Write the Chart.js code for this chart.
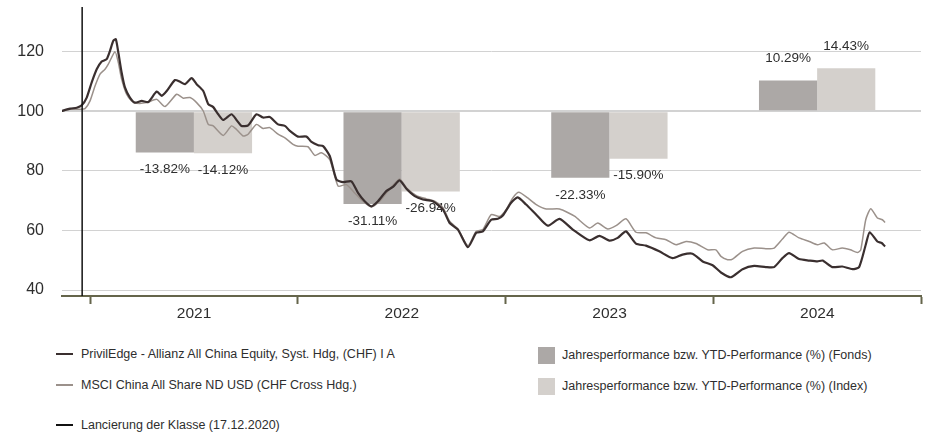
<!DOCTYPE html>
<html>
<head>
<meta charset="utf-8">
<script src="https://cdn.jsdelivr.net/npm/chart.js@4.4.0/dist/chart.umd.min.js"></script>
<style>
  html, body { margin: 0; padding: 0; background: #fff; }
  body {
    width: 928px; height: 434px; position: relative; overflow: hidden;
    font-family: 'Liberation Sans', Arial, sans-serif;
    color: #2e2e2e;
  }
  #wrap { position: absolute; left: 0; top: 0; width: 928px; height: 334px; }
  .item { position: absolute; display: flex; align-items: center; font-size: 12.5px; line-height: 18px; white-space: nowrap; }
  .line-mark { width: 17px; height: 2.5px; margin-right: 8px; }
  .box-mark { width: 17px; height: 17px; margin-right: 7px; }
</style>
</head>
<body>
<div id="wrap"><canvas id="chart"></canvas></div>
<div id="legend"></div>
<script>
// Indexed performance (launch = 100), dates as decimal years
const fundDates = [2020.864, 2020.904, 2020.936, 2020.960, 2020.984, 2021.008, 2021.032, 2021.056, 2021.080, 2021.096,
  2021.112, 2021.124, 2021.136, 2021.152, 2021.168, 2021.192, 2021.216, 2021.249, 2021.280, 2021.321,
  2021.345, 2021.369, 2021.409, 2021.433, 2021.457, 2021.489, 2021.513, 2021.545, 2021.569, 2021.593,
  2021.617, 2021.641, 2021.681, 2021.705, 2021.729, 2021.761, 2021.801, 2021.833, 2021.865, 2021.905,
  2021.938, 2021.962, 2022.001, 2022.042, 2022.066, 2022.098, 2022.122, 2022.154, 2022.186, 2022.218,
  2022.258, 2022.290, 2022.322, 2022.354, 2022.386, 2022.426, 2022.458, 2022.490, 2022.523, 2022.563,
  2022.602, 2022.650, 2022.699, 2022.731, 2022.771, 2022.819, 2022.859, 2022.891, 2022.931, 2022.963,
  2022.987, 2023.027, 2023.059, 2023.099, 2023.148, 2023.203, 2023.260, 2023.324, 2023.404, 2023.452,
  2023.500, 2023.540, 2023.580, 2023.628, 2023.676, 2023.740, 2023.804, 2023.852, 2023.900, 2023.949,
  2023.997, 2024.037, 2024.085, 2024.141, 2024.197, 2024.253, 2024.293, 2024.333, 2024.365, 2024.413,
  2024.462, 2024.501, 2024.526, 2024.573, 2024.621, 2024.670, 2024.702, 2024.734, 2024.753, 2024.790,
  2024.811, 2024.827];
const fundValues = [100.1, 100.9, 101.2, 102.0, 104.6, 109.7, 114.1, 116.7, 117.5, 120.3,
  123.7, 124.2, 119.8, 113.0, 108.0, 104.6, 102.9, 103.5, 103.1, 106.6,
  105.2, 106.8, 110.5, 109.9, 109.1, 111.1, 109.1, 106.8, 102.4, 101.4,
  99.0, 97.1, 99.0, 97.1, 95.1, 95.3, 99.0, 97.9, 98.1, 95.6,
  95.1, 93.4, 91.5, 91.5, 89.7, 88.6, 88.3, 85.0, 77.1, 76.2,
  76.5, 72.6, 69.8, 68.1, 69.8, 73.2, 74.6, 76.8, 74.0, 71.5,
  70.4, 69.8, 67.0, 62.5, 60.3, 54.4, 59.2, 59.7, 63.6, 63.9,
  65.0, 69.3, 71.1, 68.7, 65.3, 61.6, 63.9, 60.3, 56.7, 58.2,
  56.6, 57.5, 59.7, 55.6, 54.9, 53.0, 50.7, 51.9, 52.2, 49.6,
  48.3, 45.9, 44.3, 47.0, 48.1, 47.7, 47.7, 50.7, 52.4, 50.4,
  49.9, 49.6, 49.9, 47.7, 47.9, 47.0, 47.7, 55.2, 59.4, 56.3,
  55.8, 54.6];

const indexDates = [2020.864, 2020.904, 2020.952, 2020.976,
  2021.000, 2021.024, 2021.048, 2021.072, 2021.088, 2021.120, 2021.136, 2021.152, 2021.176, 2021.200,
  2021.225, 2021.273, 2021.321, 2021.361, 2021.417, 2021.449, 2021.481, 2021.513, 2021.545, 2021.569,
  2021.593, 2021.641, 2021.681, 2021.705, 2021.737, 2021.761, 2021.801, 2021.833, 2021.865, 2021.905,
  2021.938, 2021.977,
  2022.001, 2022.049, 2022.082, 2022.114, 2022.154, 2022.194, 2022.234, 2022.274, 2022.314, 2022.354,
  2022.394, 2022.434, 2022.490, 2022.523, 2022.571, 2022.619, 2022.659, 2022.699, 2022.731, 2022.771,
  2022.819, 2022.859, 2022.891, 2022.931, 2022.971,
  2023.003, 2023.035, 2023.064, 2023.107, 2023.148, 2023.196, 2023.260, 2023.332, 2023.404, 2023.444,
  2023.492, 2023.532, 2023.580, 2023.628, 2023.676, 2023.725, 2023.773, 2023.821, 2023.869, 2023.917,
  2023.973,
  2024.013, 2024.037, 2024.069, 2024.093, 2024.141, 2024.197, 2024.253, 2024.293, 2024.333, 2024.365,
  2024.413, 2024.462, 2024.501, 2024.534, 2024.573, 2024.621, 2024.660, 2024.694, 2024.710, 2024.734,
  2024.758, 2024.790, 2024.814, 2024.827];
const indexValues = [100.1, 100.7, 100.7, 100.9,
  103.5, 108.5, 112.5, 114.1, 115.8, 120.0, 116.4, 110.8, 105.7, 103.5,
  102.7, 102.9, 104.0, 101.6, 105.7, 104.4, 104.6, 102.9, 100.1, 95.6,
  95.1, 91.9, 95.1, 93.9, 91.7, 92.3, 95.6, 94.2, 94.5, 92.3,
  91.1, 88.9,
  88.3, 88.1, 85.2, 86.1, 83.8, 74.9, 75.4, 72.6, 69.8, 67.9,
  69.8, 73.2, 77.3, 74.3, 71.7, 70.6, 69.8, 67.6, 63.1, 60.5,
  54.9, 59.7, 60.3, 65.3, 64.7,
  67.0, 70.9, 72.8, 70.9, 68.7, 67.2, 67.2, 64.8, 60.8, 62.5,
  60.5, 61.6, 63.9, 59.4, 59.2, 57.5, 56.9, 55.2, 56.3, 55.6,
  53.5,
  53.5, 51.3, 50.2, 50.4, 53.0, 54.1, 53.9, 54.1, 57.1, 59.4,
  57.5, 56.3, 55.2, 55.8, 53.5, 54.1, 53.5, 52.6, 53.5, 63.6,
  67.3, 64.2, 63.6, 62.7];

// Yearly / YTD performance in %
const years = [2021, 2022, 2023, 2024];
const fundPerf = [-13.82, -31.11, -22.33, 10.29];
const indexPerf = [-14.12, -26.94, -15.90, 14.43];

const launchDate = 2020.962; // 17.12.2020
const yTicks = [40, 60, 80, 100, 120];
const xTicks = [2021, 2022, 2023, 2024, 2025];

const FONT = "'Liberation Sans', Arial, sans-serif";
const TEXT = '#2e2e2e';
const FUND_LINE = '#3a2f2f';
const INDEX_LINE = '#9b918b';
const FUND_BAR = '#aca8a6';
const INDEX_BAR = '#d4d0cc';
const AXIS = '#65654b';

const toPoints = (xs, ys) => xs.map((x, i) => ({ x: x, y: ys[i] }));
const yMin = 38, yMax = 135;

// percentage labels under / above each bar, drawn before the lines
const barLabels = {
  id: 'barLabels',
  afterDatasetDraw(chart, args) {
    const ds = chart.data.datasets[args.index];
    if (!ds.perf) return;
    const ctx = chart.ctx;
    ctx.save();
    ctx.font = '13.5px ' + FONT;
    ctx.fillStyle = TEXT;
    ctx.textAlign = 'center';
    ctx.textBaseline = 'middle';
    args.meta.data.forEach((bar, i) => {
      const v = ds.perf[i];
      const txt = v.toFixed(2) + '%';
      ctx.fillText(txt, bar.x, v < 0 ? bar.y + 17 : bar.y - 22);
    });
    ctx.restore();
  }
};

new Chart(document.getElementById('chart'), {
  data: {
    datasets: [
      {
        type: 'line',
        label: 'Lancierung der Klasse (17.12.2020)',
        data: [{ x: launchDate, y: yMin }, { x: launchDate, y: yMax }],
        borderColor: '#111111',
        borderWidth: 1.5,
        pointRadius: 0,
        order: 0
      },
      {
        type: 'line',
        label: 'PrivilEdge - Allianz All China Equity, Syst. Hdg, (CHF) I A',
        data: toPoints(fundDates, fundValues),
        borderColor: FUND_LINE,
        borderWidth: 2.2,
        pointRadius: 0,
        tension: 0.2,
        order: 1
      },
      {
        type: 'line',
        label: 'MSCI China All Share ND USD (CHF Cross Hdg.)',
        data: toPoints(indexDates, indexValues),
        borderColor: INDEX_LINE,
        borderWidth: 1.5,
        pointRadius: 0,
        tension: 0.2,
        order: 2
      },
      {
        type: 'bar',
        label: 'Jahresperformance bzw. YTD-Performance (%) (Fonds)',
        data: toPoints(years.map(y => y + 0.5), fundPerf.map(v => 100 + v)),
        perf: fundPerf,
        base: 100,
        backgroundColor: FUND_BAR,
        categoryPercentage: 0.56,
        barPercentage: 1,
        order: 3
      },
      {
        type: 'bar',
        label: 'Jahresperformance bzw. YTD-Performance (%) (Index)',
        data: toPoints(years.map(y => y + 0.5), indexPerf.map(v => 100 + v)),
        perf: indexPerf,
        base: 100,
        backgroundColor: INDEX_BAR,
        categoryPercentage: 0.56,
        barPercentage: 1,
        order: 4
      }
    ]
  },
  options: {
    responsive: true,
    maintainAspectRatio: false,
    animation: false,
    layout: { padding: { top: 7, right: 7, left: 0, bottom: 0 } },
    plugins: {
      legend: { display: false },
      tooltip: { enabled: false }
    },
    scales: {
      x: {
        type: 'linear',
        offset: false,
        min: 2020.865,
        max: 2025,
        afterBuildTicks: (scale) => { scale.ticks = xTicks.map(v => ({ value: v })); },
        afterFit: (scale) => {
          scale.height = 38;
          scale.paddingLeft = 0;
          scale.paddingRight = 0;
        },
        ticks: {
          callback: (v) => (v < 2025 ? String(v) : ''),
          labelOffset: 104,
          autoSkip: false,
          maxRotation: 0,
          padding: 0,
          color: TEXT,
          font: { family: FONT, size: 15.5 }
        },
        grid: {
          offset: false,
          drawOnChartArea: false,
          drawTicks: true,
          tickLength: 8,
          tickWidth: 2,
          tickColor: AXIS
        },
        border: { color: AXIS, width: 2 }
      },
      y: {
        min: yMin,
        max: yMax,
        afterBuildTicks: (scale) => { scale.ticks = yTicks.map(v => ({ value: v })); },
        afterFit: (scale) => {
          scale.width = 62;
          scale.paddingTop = 0;
          scale.paddingBottom = 0;
        },
        ticks: {
          padding: 18,
          color: TEXT,
          font: { family: FONT, size: 16 }
        },
        grid: {
          color: '#d2d2d2',
          lineWidth: (c) => (c.tick && c.tick.value === 100 ? 2 : 1),
          drawTicks: false
        },
        border: { display: false }
      }
    }
  },
  plugins: [barLabels]
});

// legend in two columns like the factsheet
const legendItems = [
  { text: 'PrivilEdge - Allianz All China Equity, Syst. Hdg, (CHF) I A', color: FUND_LINE, kind: 'line', left: 56, top: 345 },
  { text: 'MSCI China All Share ND USD (CHF Cross Hdg.)', color: INDEX_LINE, kind: 'line', left: 56, top: 376 },
  { text: 'Lancierung der Klasse (17.12.2020)', color: '#111111', kind: 'line', left: 56, top: 416 },
  { text: 'Jahresperformance bzw. YTD-Performance (%) (Fonds)', color: FUND_BAR, kind: 'box', left: 538, top: 346 },
  { text: 'Jahresperformance bzw. YTD-Performance (%) (Index)', color: INDEX_BAR, kind: 'box', left: 538, top: 377 }
];
const legendDiv = document.getElementById('legend');
legendItems.forEach(it => {
  const el = document.createElement('div');
  el.className = 'item';
  el.style.left = it.left + 'px';
  el.style.top = it.top + 'px';
  const mark = document.createElement('span');
  mark.className = it.kind === 'line' ? 'line-mark' : 'box-mark';
  mark.style.background = it.color;
  const label = document.createElement('span');
  label.textContent = it.text;
  el.appendChild(mark);
  el.appendChild(label);
  legendDiv.appendChild(el);
});
</script>
</body>
</html>
